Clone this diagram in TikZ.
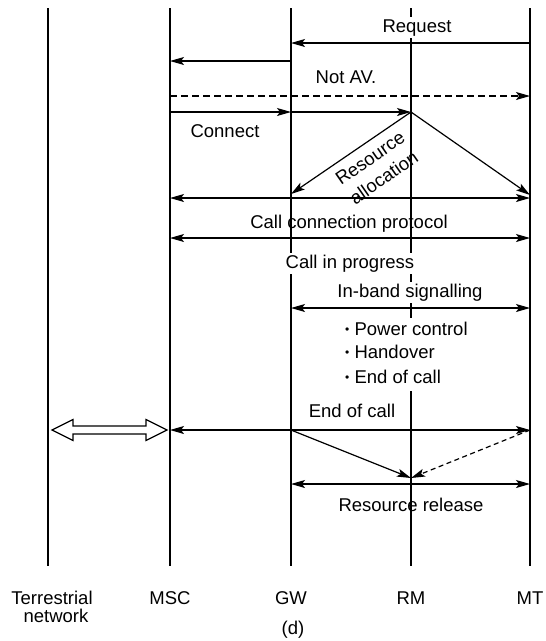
\documentclass[tikz,border=0pt]{standalone}
\usepackage{fontspec}
\setmainfont{Liberation Sans}
\usetikzlibrary{arrows.meta,calc}
\begin{document}
\begin{tikzpicture}[x=1pt,y=-1pt,
  life/.style={line width=1.8pt},
  tip/.tip={Stealth[length=14pt,width=8pt,inset=3pt]},
  msg/.style={line width=1.2pt,-tip},
  dmsg/.style={line width=1.2pt,tip-tip},
  dashmsg/.style={msg,dash pattern=on 7pt off 4pt},
  lbl/.style={font=\fontsize{18.5}{24}\selectfont,inner sep=1pt,anchor=base},
  wlbl/.style={lbl,fill=white,inner sep=2pt},
  blt/.style={font=\fontsize{18.5}{24}\selectfont,anchor=base west,fill=white,inner xsep=2pt,inner ysep=3pt,text height=14pt,text depth=5pt},
]
\useasboundingbox (0,0) rectangle (546,641);
% lifelines
\coordinate (TN) at (48,8);  \coordinate (TNb) at (48,566);
\coordinate (MSC) at (170,8); \coordinate (MSCb) at (170,566);
\coordinate (GW) at (291,8); \coordinate (GWb) at (291,566);
\coordinate (RM) at (411,8); \coordinate (RMb) at (411,566);
\coordinate (MT) at (530,8); \coordinate (MTb) at (530,566);
\foreach \a in {TN,MSC,GW,RM,MT} \draw[life] (\a) -- (\a b);
% bottom labels
\node[lbl] (lTN) at (52,604) {Terrestrial};
\node[lbl] (lTN2) at (56,622) {network};
\node[lbl] (lMSC) at (170,604) {MSC};
\node[lbl] (lGW) at (291,604) {GW};
\node[lbl] (lRM) at (411,604) {RM};
\node[lbl] (lMT) at (530,604) {MT};
\node[lbl] (cap) at (293,634) {(d)};
% messages
\node[wlbl] (req) at (417,32) {Request};
\draw[msg] (MT |- 0,43) -- (GW |- 0,43);
\draw[msg] (GW |- 0,61) -- (MSC |- 0,61);
\node[lbl] (nav) at (346,83) {Not AV.};
\draw[dashmsg] (MSC |- 0,96) -- (MT |- 0,96);
\draw[msg] (MSC |- 0,112) -- (GW |- 0,112);
\draw[msg] (GW |- 0,112) -- (RM |- 0,112);
\node[lbl] (con) at (225,137) {Connect};
\draw[msg] (RM |- 0,112) -- (GW |- 0,194);
\draw[msg] (RM |- 0,112) -- (MT |- 0,195);
\node[font=\fontsize{18.5}{24}\selectfont,align=center,rotate=34.7,inner sep=0pt] (ra) at (377,168) {Resource\\allocation};
\draw[dmsg] (MSC |- 0,198) -- (MT |- 0,198);
\node[lbl] (ccp) at (349,228) {Call connection protocol};
\draw[dmsg] (MSC |- 0,238) -- (MT |- 0,238);
\node[wlbl] (cip) at (350,268) {Call in progress};
\node[wlbl] (ibs) at (410,297) {In-band signalling};
\draw[dmsg] (GW |- 0,308) -- (MT |- 0,308);
\node[blt] (b1) at (343,335) {{\fontsize{12}{12}\selectfont\raisebox{1.5pt}{•}} Power control};
\node[blt] (b2) at (343,358) {{\fontsize{12}{12}\selectfont\raisebox{1.5pt}{•}} Handover};
\node[blt] (b3) at (343,383) {{\fontsize{12}{12}\selectfont\raisebox{1.5pt}{•}} End of call};
\node[lbl] (eoc) at (352,417) {End of call};
\draw[dmsg] (MSC |- 0,430) -- (MT |- 0,430);
\draw[line width=1.2pt,fill=white,line join=miter]
  ($(TN |- 0,430)+(4,0)$) -- ++(21,-10.5) -- ++(0,6.5) -- ++(73,0) -- ++(0,-6.5)
  -- ++(21,10.5) -- ++(-21,10.5) -- ++(0,-6.5) -- ++(-73,0) -- ++(0,6.5) -- cycle;
\draw[msg] (GW |- 0,430) -- (RM |- 0,478);
\draw[msg,dash pattern=on 5pt off 3.5pt] (MT |- 0,430) -- (RM |- 0,478);
\draw[dmsg] (GW |- 0,484) -- (MT |- 0,484);
\node[lbl] (rr) at (411,511) {Resource release};
\end{tikzpicture}
\end{document}
